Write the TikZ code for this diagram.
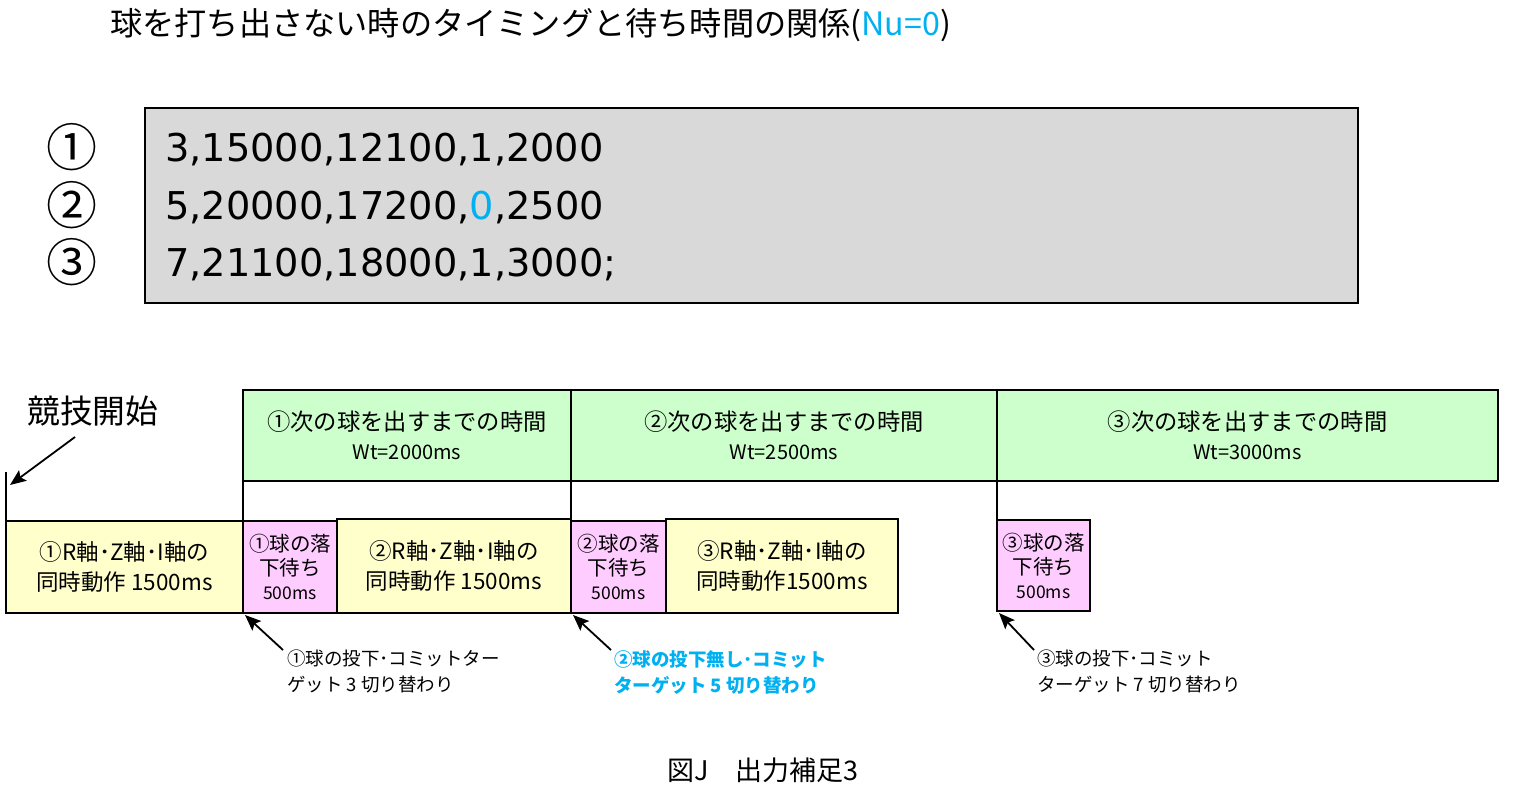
\documentclass[tikz,border=0pt]{standalone}
\usepackage{fontspec}
\setmainfont{Noto Sans CJK JP}
\newfontfamily\dvfont{DejaVu Sans}
\usetikzlibrary{arrows.meta}
\definecolor{nublue}{HTML}{00B0F0}
\definecolor{grayfill}{HTML}{D9D9D9}
\definecolor{yelfill}{HTML}{FFFFCC}
\definecolor{pinkfill}{HTML}{FFCCFF}
\definecolor{grnfill}{HTML}{CCFFCC}
\tikzset{
  box/.style={draw=black, line width=1.8pt, inner sep=0pt, outer sep=0pt, align=center},
  ybox/.style={box, fill=yelfill, font=\fontsize{22.5}{30}\selectfont},
  pbox/.style={box, fill=pinkfill, font=\fontsize{20.5}{24}\selectfont},
  gbox/.style={box, fill=grnfill, font=\fontsize{23.3}{29}\selectfont},
  conn/.style={line width=1.8pt},
  arr/.style={line width=1.8pt, -{Stealth[length=16pt,width=13pt,inset=3pt]}},
  note/.style={inner sep=0pt, align=left, anchor=north west, font=\fontsize{18.5}{26}\selectfont},
  datatext/.style={inner sep=0pt, anchor=base west, font=\dvfont\fontsize{38.3}{40}\selectfont},
  circnum/.style={inner sep=0pt, font=\fontsize{51}{52}\selectfont},
}
\begin{document}
\begin{tikzpicture}[x=1pt,y=-1pt]
\useasboundingbox (0,0) rectangle (1531,798);

% title
\node[inner sep=0pt, anchor=west, font=\fontsize{32.2}{36}\selectfont] (title) at (110,25)
  {球を打ち出さない時のタイミングと待ち時間の関係(\textcolor{nublue}{Nu=0})};

% data box
\node[draw=black, line width=1.8pt, fill=grayfill, minimum width=1213pt, minimum height=195pt, inner sep=0pt, outer sep=0pt] (data) at (751.5,205.5) {};
\node[datatext] (d1) at (165,161) {3,15000,12100,1,2000};
\node[datatext] (d2) at (165,219) {5,20000,17200,\textcolor{nublue}{0},2500};
\node[datatext] (d3) at (165,276) {7,21100,18000,1,3000;};
\node[circnum] (c1) at (72,147) {①};
\node[circnum] (c2) at (72,205) {②};
\node[circnum] (c3) at (72,262) {③};

% start label
\node[inner sep=0pt, anchor=west, font=\fontsize{32.8}{36}\selectfont] (start) at (27,411) {競技開始};
\coordinate (st0) at (75,437);
\coordinate (st1) at (10,485);
\coordinate (stl) at (6,472);

% green boxes
\node[gbox, minimum width=328pt, minimum height=91pt] (g1) at (407,435.5)
  {①次の球を出すまでの時間\\{\fontsize{20}{29}\selectfont Wt=2000ms}};
\node[gbox, minimum width=426pt, minimum height=91pt] (g2) at (784,435.5)
  {②次の球を出すまでの時間\\{\fontsize{20}{29}\selectfont Wt=2500ms}};
\node[gbox, minimum width=501pt, minimum height=91pt] (g3) at (1247.5,435.5)
  {③次の球を出すまでの時間\\{\fontsize{20}{29}\selectfont Wt=3000ms}};

% timeline boxes
\node[ybox, minimum width=237pt, minimum height=92pt] (y1) at (124.5,567)
  {①R軸･Z軸･I軸の\\同時動作 1500ms};
\node[pbox, minimum width=94pt, minimum height=92pt] (p1) at (290,567)
  {①球の落\\下待ち\\{\fontsize{17.5}{24}\selectfont 500ms}};
\node[ybox, minimum width=234pt, minimum height=94pt] (y2) at (454,566)
  {②R軸･Z軸･I軸の\\同時動作 1500ms};
\node[pbox, minimum width=95pt, minimum height=92pt] (p2) at (618.5,567)
  {②球の落\\下待ち\\{\fontsize{17.5}{24}\selectfont 500ms}};
\node[ybox, minimum width=232pt, minimum height=94pt] (y3) at (782,566)
  {③R軸･Z軸･I軸の\\同時動作1500ms};
\node[pbox, minimum width=93pt, minimum height=91pt] (p3) at (1043.5,565.5)
  {③球の落\\下待ち\\{\fontsize{17.5}{24}\selectfont 500ms}};

% vertical connectors
\draw[conn] (stl) -- (y1.north west);
\draw[conn] (g1.south west) -- (p1.north west);
\draw[conn] (g1.south east) -- (p2.north west);
\draw[conn] (g2.south east) -- (p3.north west);

% annotations
\node[note] (a1) at (287,650) {①球の投下･コミットター\\ゲット 3 切り替わり};
\node[note, text=nublue, font=\bfseries\fontsize{18.5}{26}\selectfont] (a2) at (614,650) {②球の投下無し･コミット\\ターゲット 5 切り替わり};
\node[note] (a3) at (1037,650) {③球の投下･コミット\\ターゲット 7 切り替わり};

\draw[arr] (st0) -- (st1);
\draw[arr] ([xshift=-4pt]a1.north west) -- ([shift={(2pt,-2pt)}]p1.south west);
\draw[arr] ([xshift=-3pt]a2.north west) -- ([shift={(2pt,-2pt)}]p2.south west);
\draw[arr] ([xshift=-3pt]a3.north west) -- ([shift={(2pt,-2pt)}]p3.south west);

% caption
\node[inner sep=0pt, font=\fontsize{27}{30}\selectfont] (cap) at (763,770) {図J　出力補足3};
\end{tikzpicture}
\end{document}
